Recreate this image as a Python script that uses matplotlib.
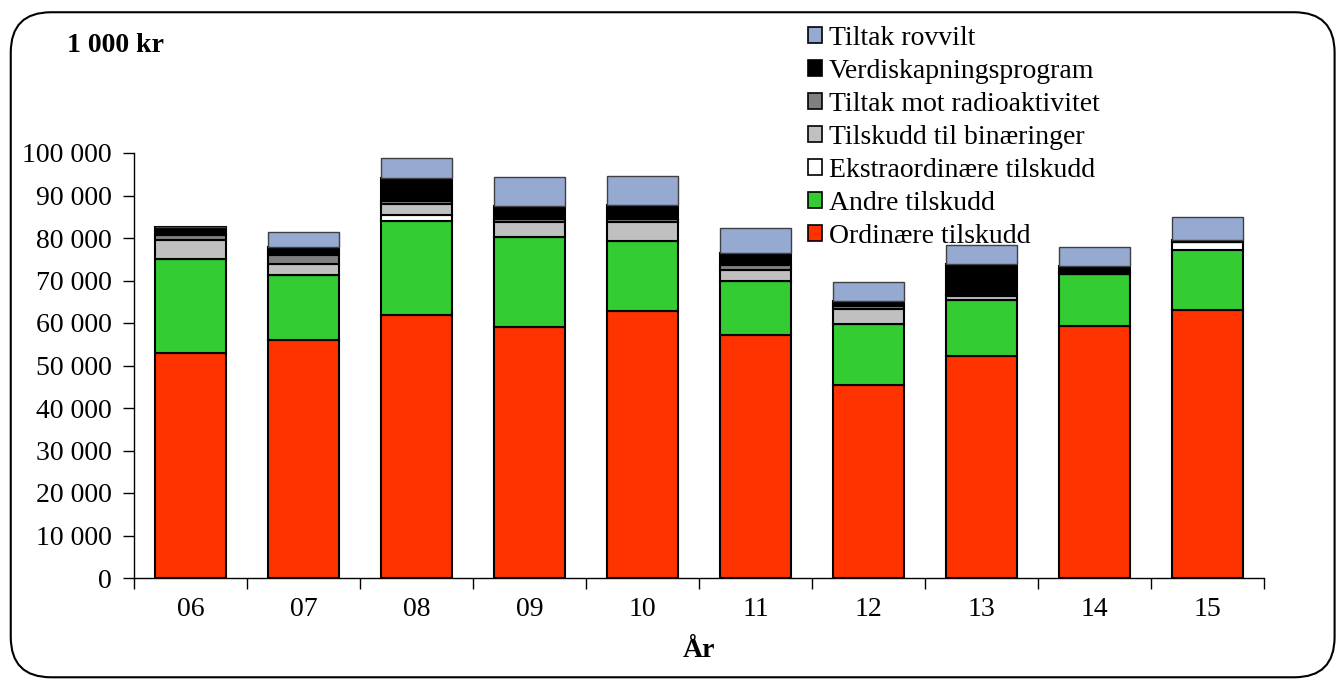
import numpy as np
import matplotlib
matplotlib.use("Agg")
from matplotlib import pyplot as plt
from matplotlib.patches import FancyBboxPatch, Patch
from matplotlib.ticker import FuncFormatter, FixedLocator

years = ["06", "07", "08", "09", "10", "11", "12", "13", "14", "15"]

# 1 000 kr per year, bottom to top
ordinaere = [53000, 56000, 62000, 59000, 62800, 57200, 45400, 52200, 59300, 63100]
andre = [22000, 15200, 22000, 21200, 16600, 12800, 14400, 13200, 12200, 14100]
ekstra = [0, 0, 1300, 0, 0, 0, 0, 0, 0, 1800]
binaeringer = [4600, 2800, 2700, 3600, 4400, 2400, 3600, 900, 0, 0]
radioaktivitet = [1000, 2000, 700, 600, 600, 1200, 500, 200, 600, 0]
verdiskapning = [2000, 1800, 5300, 3100, 3400, 2800, 1200, 7500, 1400, 500]
rovvilt = [0, 3600, 4900, 6900, 6800, 5900, 4600, 4400, 4400, 5400]

series = [
    ("Ordinære tilskudd", ordinaere, "#FF3300"),
    ("Andre tilskudd", andre, "#33CC33"),
    ("Ekstraordinære tilskudd", ekstra, "#FFFFFF"),
    ("Tilskudd til binæringer", binaeringer, "#C0C0C0"),
    ("Tiltak mot radioaktivitet", radioaktivitet, "#808080"),
    ("Verdiskapningsprogram", verdiskapning, "#000000"),
    ("Tiltak rovvilt", rovvilt, "#95A9D1"),
]

plt.rcParams['font.family'] = ['Liberation Serif', 'DejaVu Serif']

fig = plt.figure(figsize=(13.44, 6.8), dpi=100)
ax = fig.add_axes([0.0997, 0.15, 0.8408, 0.625])

x = np.arange(len(years))
bottom = np.zeros(len(years))
handles = []
for name, vals, col in series:
    vals = np.array(vals, dtype=float)
    ec = "#404040" if name == "Tiltak rovvilt" else "black"
    lw = 1.0 if name == "Tiltak rovvilt" else 1.5
    ax.bar(x, vals, 0.63, bottom=bottom, color=col, edgecolor=ec, linewidth=lw)
    bottom += vals
    handles.append(Patch(facecolor=col, edgecolor="black", linewidth=1.2, label=name))

ax.set_xlim(-0.5, len(years) - 0.5)
ax.set_ylim(0, 100000)
ax.set_yticks(np.arange(0, 100001, 10000))
ax.yaxis.set_major_formatter(FuncFormatter(lambda v, p: f"{int(v):,}".replace(",", " ")))

ax.xaxis.set_major_locator(FixedLocator(np.arange(-0.5, len(years), 1.0)))
ax.set_xticklabels([])
ax.xaxis.set_minor_locator(FixedLocator(x))
ax.set_xticklabels(years, minor=True)
ax.tick_params(axis="x", which="minor", length=0, labelsize=20, pad=14)
ax.tick_params(axis="x", which="major", length=8, direction="out", width=1)
ax.tick_params(axis="y", length=8, direction="out", width=1, labelsize=20, pad=8)

for s in ["top", "right"]:
    ax.spines[s].set_visible(False)
ax.spines["left"].set_linewidth(1)
ax.spines["bottom"].set_linewidth(1)

ax.set_xlabel("År", fontsize=20, fontweight="bold", labelpad=11)

fig.text(0.05, 0.9235, "1 000 kr", fontsize=20, fontweight="bold", va="baseline", ha="left")

fig.legend(handles=handles[::-1], loc="upper left", bbox_to_anchor=(0.601, 0.962),
           frameon=False, fontsize=20, handlelength=0.5, handleheight=0.5,
           handletextpad=0.25, labelspacing=0.29, borderaxespad=0, borderpad=0)

border = FancyBboxPatch((0.008, 0.004), 0.985, 0.978, boxstyle="round,pad=0,rounding_size=0.03",
                        transform=fig.transFigure, facecolor="none", edgecolor="black",
                        linewidth=1.5, mutation_aspect=1344 / 680)
fig.patches.append(border)

fig.savefig("out.png", dpi=100)
